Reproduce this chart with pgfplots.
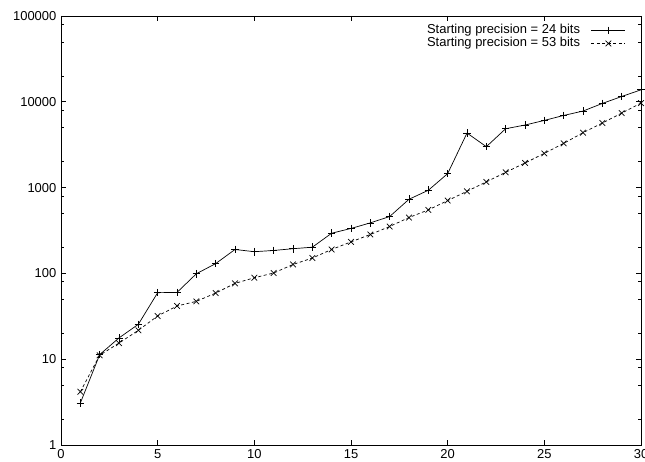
\documentclass[border=0pt]{standalone}
\usepackage{fontspec}
\setmainfont{Liberation Sans}
\usepackage{pgfplots}
\pgfplotsset{compat=1.18}
\begin{document}
\begin{tikzpicture}
\begin{axis}[
  name=ax,
  scale only axis,
  width=580bp, height=429bp,
  ymode=log,
  xmin=0, xmax=30, ymin=1, ymax=100000,
  xtick={0,5,10,15,20,25,30},
  ytick={1,10,100,1000,10000,100000},
  yticklabels={1,10,100,1000,10000,100000},
  minor ytick={2,5,8,20,50,80,200,500,800,2000,5000,8000,20000,50000,80000},
  major tick length=5bp, minor tick length=3bp,
  tick style={black, line width=0.6pt},
  axis line style={black, line width=0.7pt},
  every axis/.append style={line width=0.7pt},
  font=\fontsize{13}{15}\selectfont,
  /pgf/number format/assume math mode=true,
  log basis y=10,
  xticklabel style={yshift=-1bp},
  yticklabel style={xshift=-1bp},
  legend style={draw=none, fill=none, at={(0.976,0.984)}, anchor=north east,
    font=\fontsize{13}{13}\selectfont, row sep=0.5bp, column sep=9bp, inner sep=1bp,
    nodes={text height=9bp, text depth=2.5bp, inner ysep=0.5bp}},
  legend cell align=right,
  legend plot pos=right,
  legend image code/.code={%
    \draw[mark repeat=2,mark phase=2,#1] plot coordinates {(0bp,0bp) (17bp,0bp) (34bp,0bp)};},
]
\addplot[black, line width=0.7pt, mark=+, mark size=3.8bp, mark options={solid}] coordinates {
(1,3.08) (2,11.3) (3,17.7) (4,25.5) (5,59.6) (6,60) (7,99) (8,130) (9,190) (10,179)
(11,185) (12,194) (13,202) (14,294) (15,334) (16,388) (17,460) (18,731) (19,931) (20,1455)
(21,4325) (22,2998) (23,4855) (24,5357) (25,6068) (26,6934) (27,7800) (28,9566) (29,11530) (30,13790)
};
\addlegendentry{Starting precision = 24 bits}
\addplot[black, line width=0.7pt, dash pattern=on 3bp off 2.5bp, mark=x, mark size=4bp, mark options={solid}] coordinates {
(1,4.17) (2,11.1) (3,15.4) (4,21.7) (5,31.9) (6,41.7) (7,47.2) (8,59) (9,76.5) (10,89)
(11,101) (12,127) (13,151) (14,190) (15,233) (16,284) (17,352) (18,448) (19,550) (20,706)
(21,906) (22,1165) (23,1507) (24,1936) (25,2506) (26,3275) (27,4363) (28,5653) (29,7386) (30,9658)
};
\addlegendentry{Starting precision = 53 bits}
\end{axis}
\pgfresetboundingbox
\path[use as bounding box] ([xshift=-61bp,yshift=-17bp]ax.south west) rectangle ([xshift=4bp,yshift=16bp]ax.north east);
\end{tikzpicture}
\end{document}
